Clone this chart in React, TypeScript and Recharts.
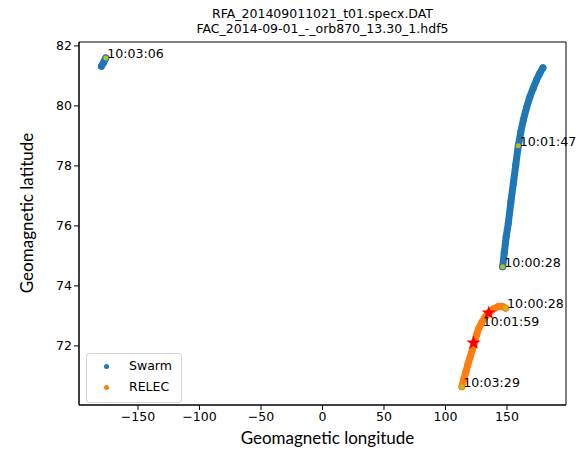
import React from "react";
import { ReferenceArea, Scatter, ScatterChart, XAxis, YAxis } from "recharts";

// Swarm track, before the dateline wrap (lon, lat)
const swarmEast = [
  { lon: 146.5, lat: 74.64 },
  { lon: 147.8, lat: 75.1 },
  { lon: 149.4, lat: 75.65 },
  { lon: 151.1, lat: 76.09 },
  { lon: 153.2, lat: 76.8 },
  { lon: 155.2, lat: 77.42 },
  { lon: 157.2, lat: 78.05 },
  { lon: 159.2, lat: 78.67 },
  { lon: 161.2, lat: 79.12 },
  { lon: 163.3, lat: 79.53 },
  { lon: 166.0, lat: 79.95 },
  { lon: 168.7, lat: 80.31 },
  { lon: 171.4, lat: 80.6 },
  { lon: 174.1, lat: 80.87 },
  { lon: 176.6, lat: 81.08 },
  { lon: 179.2, lat: 81.27 },
];

// Swarm track after crossing 180 deg
const swarmWest = [
  { lon: -179.8, lat: 81.32 },
  { lon: -178.0, lat: 81.45 },
  { lon: -176.2, lat: 81.6 },
];

const relec = [
  { lon: 148.9, lat: 73.26 },
  { lon: 146.0, lat: 73.32 },
  { lon: 143.0, lat: 73.31 },
  { lon: 139.0, lat: 73.23 },
  { lon: 135.2, lat: 73.1 },
  { lon: 132.2, lat: 72.96 },
  { lon: 129.5, lat: 72.78 },
  { lon: 127.2, lat: 72.6 },
  { lon: 125.4, lat: 72.38 },
  { lon: 123.5, lat: 72.1 },
  { lon: 121.8, lat: 71.87 },
  { lon: 120.0, lat: 71.62 },
  { lon: 118.2, lat: 71.38 },
  { lon: 116.5, lat: 71.12 },
  { lon: 114.8, lat: 70.88 },
  { lon: 113.3, lat: 70.64 },
];

const stars = [
  { lon: 135.2, lat: 73.1 },
  { lon: 122.8, lat: 72.1 },
];

const timeMarks = [
  { lon: -176.2, lat: 81.6, label: "10:03:06" },
  { lon: 159.2, lat: 78.67, label: "10:01:47" },
  { lon: 146.5, lat: 74.64, label: "10:00:28" },
  { lon: 148.9, lat: 73.26, label: "10:00:28" },
  { lon: 113.3, lat: 70.64, label: "10:03:29" },
];

const timeTexts = [{ lon: 130.3, lat: 72.67, label: "10:01:59" }];

const xTicks = [-150, -100, -50, 0, 50, 100, 150];
const yTicks = [72, 74, 76, 78, 80, 82];
const xDomain: [number, number] = [-198, 198];
const yDomain: [number, number] = [70.03, 82.13];

const titleLines = ["RFA_201409011021_t01.specx.DAT", "FAC_2014-09-01_-_orb870_13.30_1.hdf5"];

const legendItems = [
  { name: "Swarm", color: "#1f77b4" },
  { name: "RELEC", color: "#ff7f0e" },
];

const BLUE = "#1f77b4";
const ORANGE = "#ff7f0e";
const YELLOW = "#bcbd22";
const TICK_FONT = "DejaVu Sans";

const dot = (color: string, r: number) => (p: any) =>
  <circle cx={p.cx} cy={p.cy} r={r} fill={color} />;

const star = (p: any) => {
  const R = 7.5;
  const r = R * 0.4;
  const pts: string[] = [];
  for (let i = 0; i < 10; i++) {
    const a = -Math.PI / 2 + (i * Math.PI) / 5;
    const rr = i % 2 === 0 ? R : r;
    pts.push(`${p.cx + rr * Math.cos(a)},${p.cy + rr * Math.sin(a)}`);
  }
  return <polygon points={pts.join(" ")} fill="#ff0000" />;
};

const marker = (p: any) => (
  <g>
    <circle cx={p.cx} cy={p.cy} r={2.5} fill={YELLOW} />
    <text x={p.cx + 1.5} y={p.cy} fontFamily={TICK_FONT} fontSize={12.6} fill="#000">
      {p.payload.label}
    </text>
  </g>
);

const textOnly = (p: any) => (
  <text x={p.cx} y={p.cy} fontFamily={TICK_FONT} fontSize={12.6} fill="#000">
    {p.payload.label}
  </text>
);

const fmtMinus = (v: number) => String(v).replace("-", "\u2212");

export default function App() {
  return (
    <div style={{ position: "absolute", left: 0, top: 0, width: 587, height: 459, background: "#fff" }}>
      {titleLines.map((t, i) => (
        <div
          key={t}
          style={{
            position: "absolute",
            left: 79,
            width: 487,
            top: 6 + i * 14.5,
            textAlign: "center",
            fontFamily: TICK_FONT,
            fontSize: 12.5,
            lineHeight: "15px",
            color: "#000",
          }}
        >
          {t}
        </div>
      ))}
      <ScatterChart
        width={587}
        height={459}
        margin={{ top: 42, right: 21, left: 39, bottom: 24 }}
        style={{ overflow: "visible" }}
      >
        <XAxis
          type="number"
          dataKey="lon"
          domain={xDomain}
          ticks={xTicks}
          height={30}
          tickFormatter={fmtMinus}
          tickSize={5}
          tick={{ fill: "#000", fontFamily: TICK_FONT, fontSize: 12.5 }}
          stroke="#000"
          label={(props: any) => {
            const vb = props.viewBox;
            return (
              <text x={vb.x + vb.width / 2 + 5} y={444} textAnchor="middle" fontFamily="Lato" fontSize={17} fill="#000">
                Geomagnetic longitude
              </text>
            );
          }}
        />
        <YAxis
          type="number"
          dataKey="lat"
          domain={yDomain}
          ticks={yTicks}
          width={40}
          tickSize={5}
          tick={{ fill: "#000", fontFamily: TICK_FONT, fontSize: 12.5 }}
          stroke="#000"
          label={() => (
            <text
              x={26}
              y={213}
              transform="rotate(-90 26 213)"
              textAnchor="middle"
              dominantBaseline="central"
              fontFamily="Lato"
              fontSize={17}
              fill="#000"
            >
              Geomagnetic latitude
            </text>
          )}
        />
        <ReferenceArea
          x1={xDomain[0]}
          x2={xDomain[1]}
          y1={yDomain[0]}
          y2={yDomain[1]}
          fill="none"
          fillOpacity={0}
          stroke="#000"
          strokeOpacity={1}
          ifOverflow="visible"
        />
        <Scatter
          name="Swarm"
          data={swarmEast}
          fill={BLUE}
          line={{ stroke: BLUE, strokeWidth: 7, strokeLinecap: "round", strokeLinejoin: "round" }}
          lineType="joint"
          shape={dot(BLUE, 3.5)}
          isAnimationActive={false}
        />
        <Scatter
          data={swarmWest}
          fill={BLUE}
          line={{ stroke: BLUE, strokeWidth: 7, strokeLinecap: "round", strokeLinejoin: "round" }}
          lineType="joint"
          shape={dot(BLUE, 3.5)}
          legendType="none"
          isAnimationActive={false}
        />
        <Scatter
          name="RELEC"
          data={relec}
          fill={ORANGE}
          line={{ stroke: ORANGE, strokeWidth: 7, strokeLinecap: "round", strokeLinejoin: "round" }}
          lineType="joint"
          shape={dot(ORANGE, 3.5)}
          isAnimationActive={false}
        />
        <Scatter data={stars} shape={star} legendType="none" isAnimationActive={false} />
        <Scatter data={timeMarks} shape={marker} legendType="none" isAnimationActive={false} />
        <Scatter data={timeTexts} shape={textOnly} legendType="none" isAnimationActive={false} />
      </ScatterChart>
      <div
        style={{
          position: "absolute",
          left: 86,
          top: 353,
          width: 94,
          height: 48,
          border: "1px solid #d6d6d6",
          borderRadius: 3,
          background: "rgba(255,255,255,0.8)",
          fontFamily: TICK_FONT,
          fontSize: 12.5,
          color: "#000",
        }}
      >
        {legendItems.map((it, i) => (
          <div key={it.name} style={{ position: "absolute", left: 0, top: 4 + i * 21, height: 16, width: 94 }}>
            <span
              style={{
                position: "absolute",
                left: 16.5,
                top: 5.5,
                width: 5,
                height: 5,
                borderRadius: "50%",
                background: it.color,
              }}
            />
            <span style={{ position: "absolute", left: 42, top: 0, lineHeight: "16px" }}>{it.name}</span>
          </div>
        ))}
      </div>
    </div>
  );
}
